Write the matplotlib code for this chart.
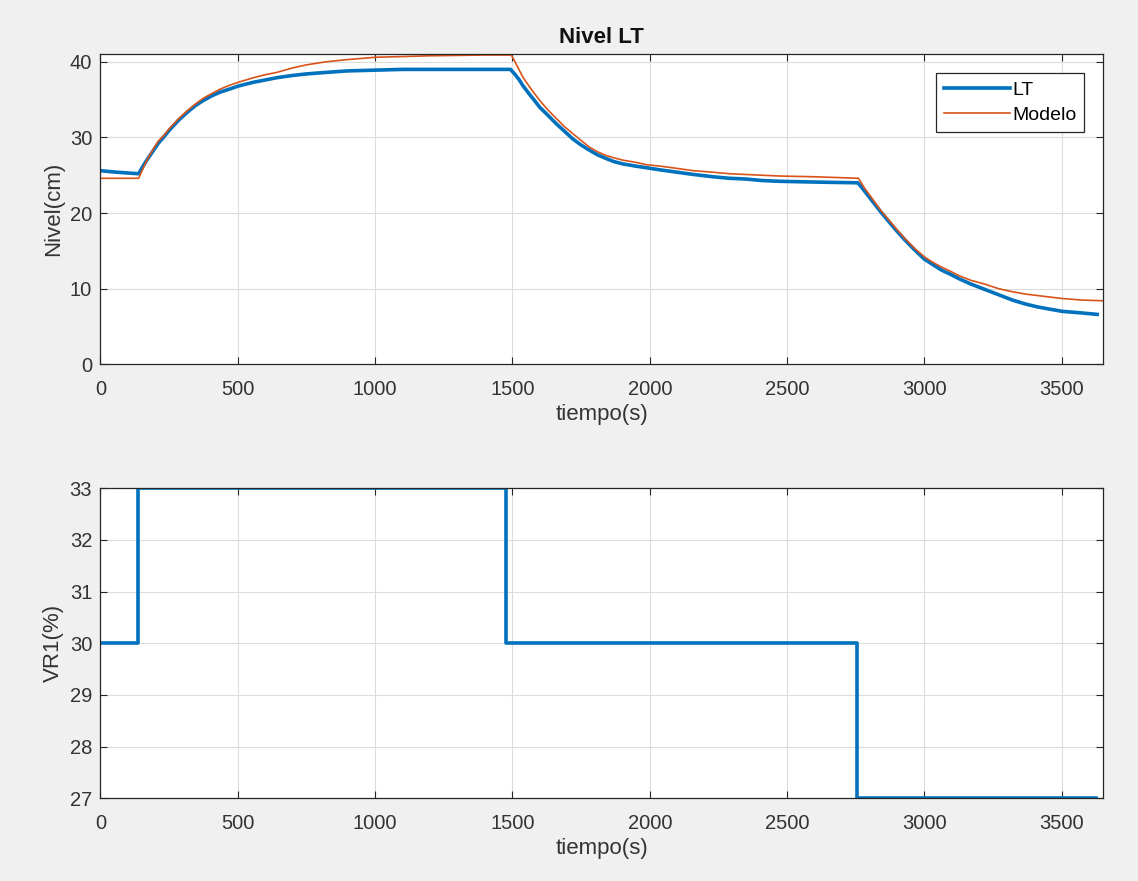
import matplotlib
matplotlib.use("Agg")
import matplotlib.pyplot as plt

# ---- data ----
lt_t = [0, 60, 139, 150, 165, 180, 193, 210, 229, 254, 285, 315, 345, 375, 405, 436,
        470, 502, 557, 600, 642, 700, 750, 820, 900, 1000, 1100, 1200, 1300, 1400, 1493,
        1510, 1525, 1539, 1560, 1580, 1599, 1630, 1660, 1690, 1720, 1750, 1781, 1810,
        1842, 1870, 1902, 1950, 1987, 2040, 2100, 2160, 2230, 2290, 2350, 2410, 2472,
        2600, 2758, 2780, 2810, 2840, 2872, 2900, 2930, 2965, 3000, 3030, 3060, 3095,
        3127, 3170, 3220, 3270, 3320, 3365, 3410, 3455, 3502, 3570, 3629]
lt_v = [25.6, 25.4, 25.2, 25.9, 26.8, 27.6, 28.3, 29.2, 30.0, 31.1, 32.3, 33.3, 34.2,
        34.9, 35.5, 36.0, 36.4, 36.8, 37.3, 37.6, 37.9, 38.2, 38.4, 38.6, 38.8, 38.9,
        39.0, 39.0, 39.0, 39.0, 39.0, 38.3, 37.6, 36.8, 35.8, 34.9, 34.0, 32.9, 31.8,
        30.8, 29.8, 29.0, 28.3, 27.7, 27.2, 26.8, 26.5, 26.2, 26.0, 25.7, 25.4, 25.1,
        24.8, 24.6, 24.5, 24.3, 24.2, 24.1, 24.0, 23.0, 21.6, 20.2, 18.8, 17.6, 16.4,
        15.1, 13.9, 13.2, 12.5, 11.9, 11.3, 10.6, 9.9, 9.2, 8.5, 8.0, 7.6, 7.3, 7.0,
        6.8, 6.6]

mod_t = [0, 139, 150, 165, 180, 193, 210, 229, 254, 285, 315, 345, 375, 405, 436, 470,
         502, 557, 600, 642, 700, 750, 820, 900, 1000, 1100, 1200, 1300, 1400, 1496,
         1515, 1539, 1570, 1599, 1630, 1660, 1690, 1720, 1750, 1781, 1810, 1842, 1870,
         1902, 1950, 1987, 2040, 2100, 2160, 2230, 2290, 2350, 2410, 2472, 2600, 2760,
         2780, 2810, 2840, 2872, 2900, 2930, 2965, 3000, 3030, 3060, 3095, 3127, 3170,
         3220, 3270, 3320, 3365, 3410, 3455, 3502, 3570, 3650]
mod_v = [24.6, 24.6, 25.5, 26.7, 27.7, 28.5, 29.5, 30.2, 31.3, 32.5, 33.5, 34.4, 35.2,
         35.8, 36.4, 36.9, 37.3, 37.9, 38.3, 38.6, 39.2, 39.6, 40.0, 40.3, 40.6, 40.7,
         40.8, 40.85, 40.9, 40.9, 39.6, 37.9, 36.3, 34.9, 33.6, 32.5, 31.4, 30.5, 29.6,
         28.7, 28.1, 27.6, 27.3, 27.0, 26.7, 26.4, 26.2, 25.9, 25.6, 25.4, 25.2, 25.1,
         25.0, 24.9, 24.8, 24.6, 23.4, 21.9, 20.4, 19.0, 17.8, 16.6, 15.3, 14.2, 13.5,
         12.9, 12.3, 11.7, 11.1, 10.6, 10.0, 9.6, 9.3, 9.1, 8.9, 8.7, 8.5, 8.4]

vr_t = [0, 137, 137, 1478, 1478, 2756, 2756, 3625]
vr_v = [30, 30, 33, 33, 30, 30, 27, 27]

x_ticks = [0, 500, 1000, 1500, 2000, 2500, 3000, 3500]
y1_ticks = [0, 10, 20, 30, 40]
y2_ticks = [27, 28, 29, 30, 31, 32, 33]

BLUE = "#0072BD"
ORANGE = "#D95319"
AXC = "#262626"
TXT = "#333333"

plt.rcParams['font.family'] = ['Liberation Sans', 'DejaVu Sans']

fig = plt.figure(figsize=(11.38, 8.81), dpi=100)
fig.patch.set_facecolor("#F0F0F0")

ax1 = fig.add_axes([0.0883, 0.5865, 0.9692 - 0.0883, 0.9384 - 0.5865])
ax2 = fig.add_axes([0.0883, 0.0939, 0.9692 - 0.0883, 0.4457 - 0.0939])


def style(ax):
    ax.set_facecolor("white")
    ax.grid(True, color="#DCDCDC", linewidth=0.8)
    ax.set_axisbelow(True)
    ax.tick_params(axis="x", pad=11)
    ax.tick_params(axis="y", pad=6)
    ax.tick_params(direction="in", length=5, width=0.8, colors=AXC,
                   labelsize=14.5, top=True, right=True, labelcolor=TXT)
    for s in ax.spines.values():
        s.set_color(AXC)
        s.set_linewidth(0.9)


ax1.plot(lt_t, lt_v, color=BLUE, linewidth=2.6, label="LT")
ax1.plot(mod_t, mod_v, color=ORANGE, linewidth=1.2, label="Modelo")
ax1.set_xlim(0, 3650)
ax1.set_ylim(0, 41)
ax1.set_xticks(x_ticks)
ax1.set_yticks(y1_ticks)
style(ax1)
ax1.set_title("Nivel LT", fontsize=16, fontweight="bold", pad=8, color="#111111")
ax1.set_xlabel("tiempo(s)", fontsize=16, color=TXT, labelpad=4)
ax1.set_ylabel("Nivel(cm)", fontsize=16, color=TXT, labelpad=4)
leg = ax1.legend(loc="upper right", fontsize=14, fancybox=False, framealpha=1,
                 edgecolor=AXC, handlelength=3.4, handletextpad=0.1,
                 borderpad=0.42, labelspacing=0.4, borderaxespad=0.95)
leg.get_frame().set_linewidth(0.9)

ax2.plot(vr_t, vr_v, color=BLUE, linewidth=2.6)
ax2.set_xlim(0, 3650)
ax2.set_ylim(27, 33)
ax2.set_xticks(x_ticks)
ax2.set_yticks(y2_ticks)
style(ax2)
ax2.set_xlabel("tiempo(s)", fontsize=16, color=TXT, labelpad=4)
ax2.set_ylabel("VR1(%)", fontsize=16, color=TXT, labelpad=4)

fig.savefig("out.png", dpi=100, facecolor=fig.get_facecolor())
